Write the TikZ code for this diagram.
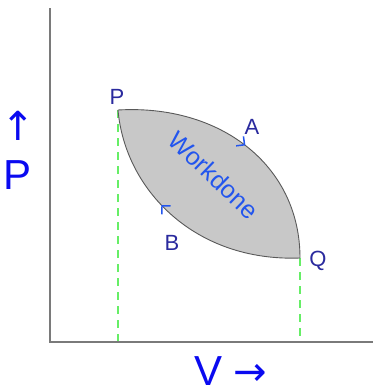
\documentclass[tikz,border=0pt]{standalone}
\usepackage{fontspec}
\setmainfont{Liberation Sans}
\newfontfamily\symfont{DejaVu Sans}
\usetikzlibrary{arrows.meta,decorations.markings}
\definecolor{axisgray}{HTML}{7A7A7A}
\definecolor{dashgreen}{HTML}{66EE66}
\definecolor{ptblue}{HTML}{2A2A9E}
\definecolor{wdblue}{HTML}{2255EE}
\definecolor{axblue}{HTML}{0A0AF0}
\definecolor{fillgray}{HTML}{C8C8C8}
\tikzset{
  axisline/.style={draw=axisgray,line width=2.5pt},
  guide/.style={draw=dashgreen,line width=2pt,dash pattern=on 8pt off 6pt},
  ptlabel/.style={text=ptblue,font=\fontsize{22}{22}\selectfont,inner sep=0pt},
  axlabel/.style={text=axblue,font=\fontsize{42}{42}\selectfont,inner sep=0pt},
  axarrow/.style={text=axblue,font=\symfont\fontsize{40}{40}\selectfont,inner sep=0pt},
  cycle/.style={draw=black!65,line width=0.9pt},
  dirmark/.style={postaction={decorate},decoration={markings,
     mark=at position #1 with {\arrow[wdblue,line width=1.5pt]{Straight Barb[length=6pt,width=12pt]}}}}
}
\begin{document}
\begin{tikzpicture}[x=1pt,y=-1pt]
\useasboundingbox (0,0) rectangle (373,392);
\coordinate (P) at (118,110);
\coordinate (Q) at (300,258);
\coordinate (Pb) at (118,342);
\coordinate (Qb) at (300,342);
\coordinate (O) at (50,342);
\coordinate (Ytop) at (50,8);
\coordinate (Xend) at (373,342);
% guides
\draw[guide] (P) -- (Pb);
\draw[guide] (Q) -- (Qb);
% area
\fill[fillgray] (P) .. controls (220,104) and (300,165) .. (Q)
   .. controls (195,262) and (125,190) .. (P) -- cycle;
\draw[cycle,dirmark=0.51] (P) .. controls (220,104) and (300,165) .. (Q);
\draw[cycle,dirmark=0.59] (Q) .. controls (195,262) and (125,190) .. (P);
% axes
\draw[axisline] (Ytop) -- (O) -- (Xend);
% labels
\node[ptlabel] (lP) at (117,97) {P};
\node[ptlabel] (lQ) at (318,261) {Q};
\node[ptlabel] (lA) at (252,127) {A};
\node[ptlabel] (lB) at (172,243) {B};
\node[text=wdblue,font=\fontsize{25}{25}\selectfont,rotate=-44,inner sep=0pt] (wd) at (214,175) {Workdone};
\node[axarrow] (yarr) at (18,126) {↑};
\node[axlabel] (yP) at (18,175) {P};
\node[axlabel] (xV) at (209,371) {V};
\node[axarrow] (xarr) at (250,375) {→};
\end{tikzpicture}
\end{document}
